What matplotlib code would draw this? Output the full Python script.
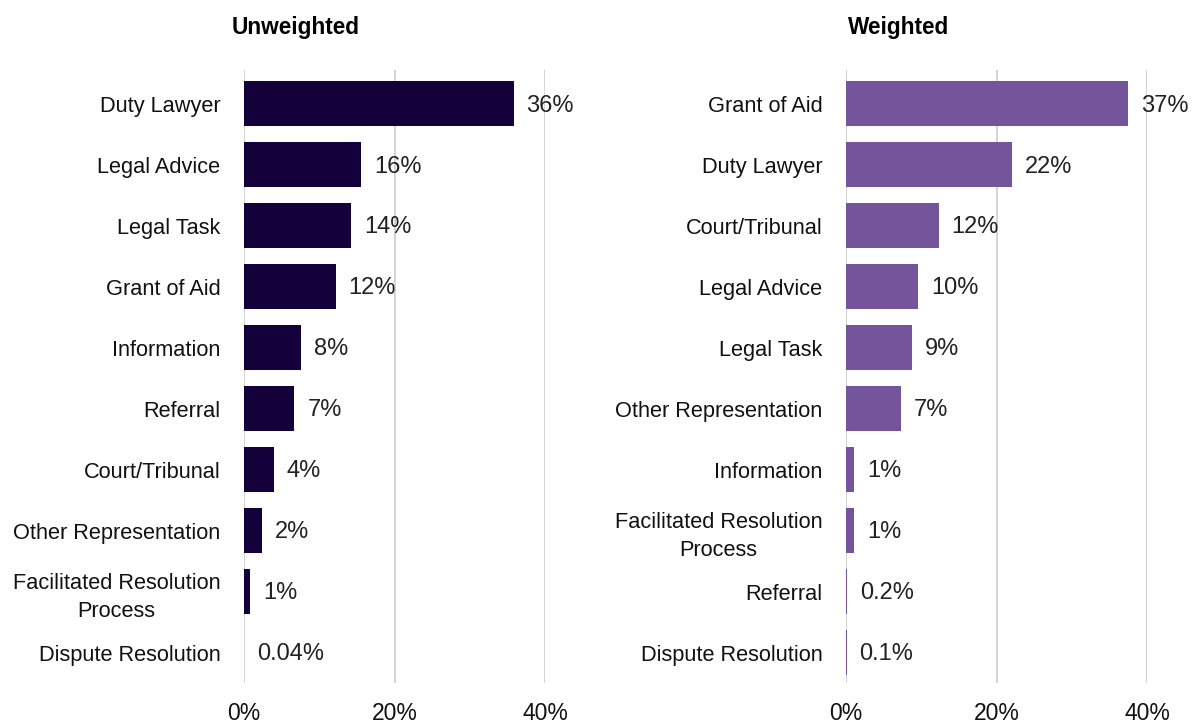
import matplotlib
matplotlib.use('Agg')
import matplotlib.pyplot as plt

plt.rcParams['font.family'] = ['Liberation Sans', 'DejaVu Sans']

unw_cats = ['Duty Lawyer', 'Legal Advice', 'Legal Task', 'Grant of Aid', 'Information',
            'Referral', 'Court/Tribunal', 'Other Representation',
            'Facilitated Resolution\nProcess', 'Dispute Resolution']
unw_vals = [35.8, 15.6, 14.2, 12.2, 7.6, 6.7, 4.0, 2.4, 0.8, 0.04]
unw_labels = ['36%', '16%', '14%', '12%', '8%', '7%', '4%', '2%', '1%', '0.04%']

w_cats = ['Grant of Aid', 'Duty Lawyer', 'Court/Tribunal', 'Legal Advice', 'Legal Task',
          'Other Representation', 'Information', 'Facilitated Resolution\nProcess',
          'Referral', 'Dispute Resolution']
w_vals = [37.5, 22.0, 12.3, 9.6, 8.8, 7.3, 1.1, 1.1, 0.2, 0.1]
w_labels = ['37%', '22%', '12%', '10%', '9%', '7%', '1%', '1%', '0.2%', '0.1%']

ticks = [0, 20, 40]
tick_labels = ['0%', '20%', '40%']

fig = plt.figure(figsize=(12.03, 7.27), dpi=100)

panels = [
    ('Unweighted', unw_cats, unw_vals, unw_labels, '#14003a', 0.2028, -0.04),
    ('Weighted', w_cats, w_vals, w_labels, '#74559c', 0.7032, 0.007),
]

for title, cats, vals, labels, colour, left, tx in panels:
    ax = fig.add_axes([left, 0.0605, 0.2505, 0.843])
    pos = range(len(cats))
    ax.barh(pos, vals, height=0.74, color=colour, zorder=3)
    for p, v, lab in zip(pos, vals, labels):
        ax.text(v + 1.7, p + 0.03, lab, va='center', ha='left', fontsize=17, color='#222222')
    ax.set_yticks(list(pos))
    ax.set_yticklabels(cats, fontsize=15.7, ha='right', multialignment='center',
                       linespacing=1.45, color='#111111')
    ax.tick_params(axis='y', length=0, pad=17)
    ax.set_xlim(0, 40)
    ax.set_ylim(9.5, -0.55)
    ax.set_xticks(ticks)
    ax.set_xticklabels(tick_labels, fontsize=16.5, color='#111111')
    ax.tick_params(axis='x', length=0, pad=14)
    ax.grid(axis='x', color='#d0d0d0', linewidth=1.3, zorder=0)
    for s in ax.spines.values():
        s.set_visible(False)
    ax.set_title(title, fontsize=16.3, fontweight='bold', loc='left', x=tx, y=1.045)

fig.savefig('out.png', dpi=100)
